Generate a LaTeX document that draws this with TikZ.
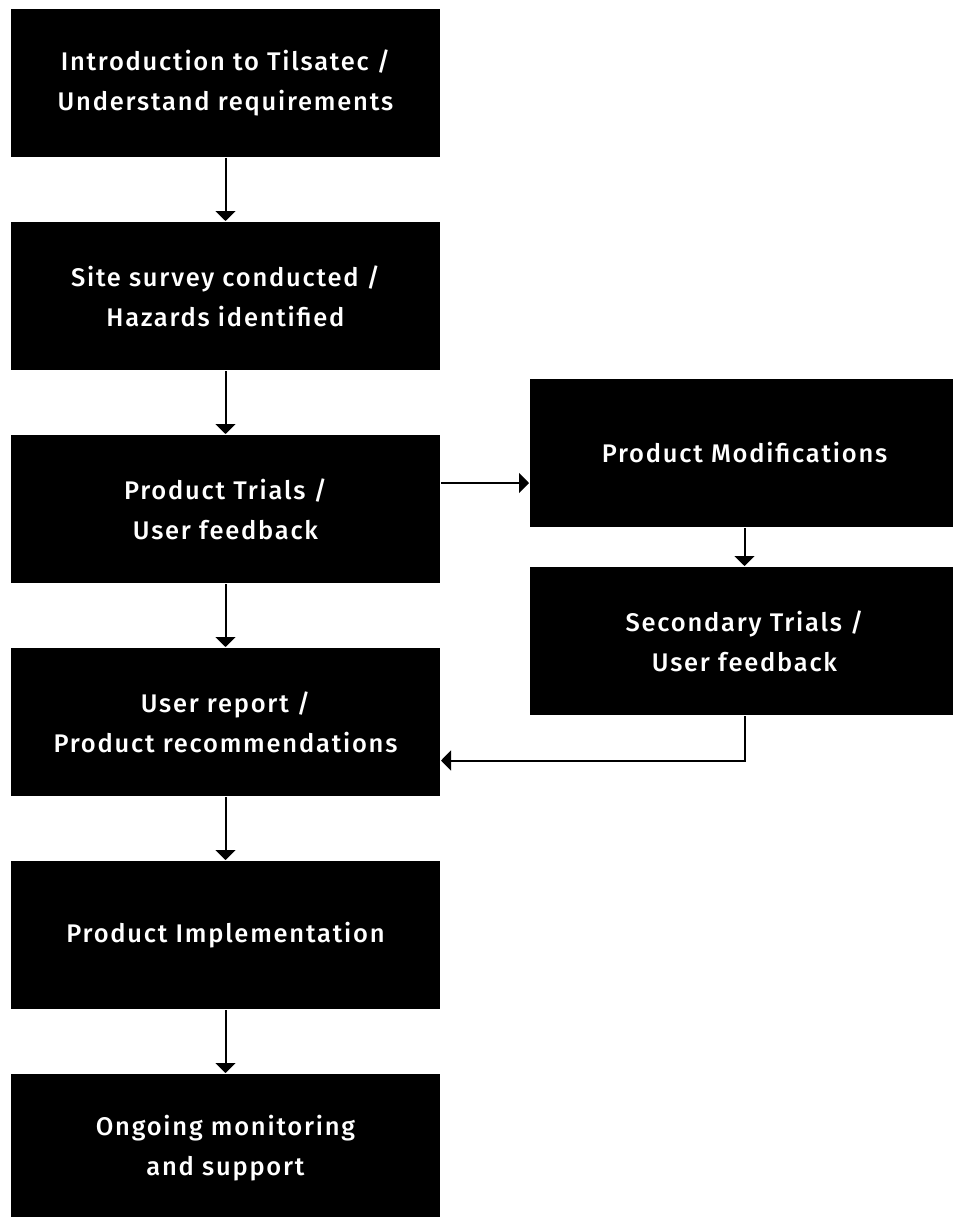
\documentclass[tikz,border=0pt]{standalone}
\usepackage{fontspec}
\setmainfont{Fira Sans}[BoldFont={Fira Sans Medium}, LetterSpace=7]
\usepackage{tikz}
\usetikzlibrary{arrows.meta,positioning}

\begin{document}
\begin{tikzpicture}[
    node distance=4.26cm,
    >={Triangle[width=0.4cm,length=0.2cm]},
    line width=0.04cm,
    font=\bfseries\fontsize{14.5}{22.7}\selectfont,
    stage/.style={
		rectangle,
		fill=black,
		draw=none,
		text=white,
		align=center,
		minimum height=2.96cm,
		minimum width=8.58cm,
		inner sep=0pt
	}
  ]

 \useasboundingbox (0,0) rectangle (19.04,-24.34);

 \node [stage] (intro) at (4.51,-1.66) {Introduction to Tilsatec /\\Understand requirements};
 \node [stage, below of=intro] (survey) {Site survey conducted /\\Hazards identified};
 \node [stage, below of=survey] (trials) {Product Trials /\\User feedback};
 \node [stage, below of=trials] (report) {User report /\\Product recommendations};
 \node [stage, below of=report] (implement) {Product Implementation};
 \node [stage, below of=implement] (monitor) {Ongoing monitoring\\and support};

% // side loop
 \node [stage, right of=trials, xshift=6.12cm, yshift=1.12cm] (modif) {Product Modifications};
 \node [stage, below of=modif, yshift=0.5cm] (second) {Secondary Trials /\\User feedback};

 \draw [draw, ->]  (intro) -- (survey);
 \draw [draw, ->]  (survey) -- (trials);
 \draw [draw, ->]  (trials) -- (report);
 \draw [draw, ->]  (report) -- (implement);
 \draw [draw, ->]  (implement) -- (monitor);

 \draw [draw, ->]  ([yshift=0.52cm]trials.east) -- ([yshift=0.52cm]trials.east -| modif.west);
 \draw [draw, ->]  (modif) -- (second);
 \draw [draw, ->]  (second.south) |- ([yshift=-0.77cm]report.east);

\end{tikzpicture}
\end{document}
